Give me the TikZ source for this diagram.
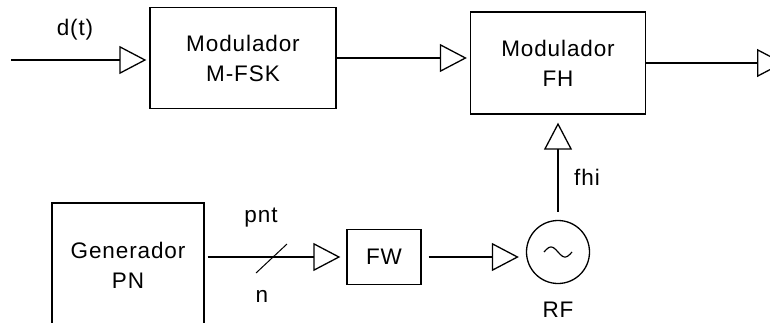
\documentclass[tikz,border=0pt]{standalone}
\usepackage{fontspec}
\setmainfont{Liberation Sans}[LetterSpace=4]
\usetikzlibrary{arrows.meta,calc}
\definecolor{ink}{HTML}{000000}
\newcommand{\blocktext}{\fontsize{22.5}{30}\selectfont}
\tikzset{
 every node/.append style={font=\blocktext,text=ink,align=center},
 block/.style={draw=ink,line width=1.3pt,inner sep=2pt},
 wire/.style={draw=ink,line width=1.3pt},
 signal/.style={wire,-{Triangle[open,length=27pt,width=28pt]},shorten >=3pt},
 tag/.style={inner sep=0pt,anchor=base},
 osc/.style={circle,draw=ink,line width=1.3pt,minimum size=63pt,inner sep=0pt},
}

\begin{document}
\begin{tikzpicture}[x=1pt,y=-1pt]
\useasboundingbox (0,0) rectangle (770,322);
\clip (0,0) rectangle (770,322);

\node[block,minimum width=186pt,minimum height=101pt] (fsk) at (243,58) {Modulador\\M-FSK};
\node[block,minimum width=175pt,minimum height=102pt] (fh) at (558,63) {Modulador\\FH};
\node[block,minimum width=152pt,minimum height=124pt] (gen) at (128,265) {Generador\\PN};
\node[block,minimum width=74pt,minimum height=55pt] (fw) at (384,257) {FW};
\node[osc] (rf) at (558,252) {};
\draw[wire,line width=1.2pt,shift={(rf.center)}] plot[domain=-14:14,smooth,samples=25] (\x,{-5*sin((\x+14)/28*360)});

\coordinate (in) at (11,60);
\coordinate (out) at (787,63);
\coordinate (bus) at (271,258);

\draw[signal] (in) -- (in -| fsk.west);
\draw[signal] (fsk.east) -- (fsk.east -| fh.west);
\draw[signal] (fh.east) -- (out);
\draw[signal,shorten <=3pt,shorten >=6pt] (fw.west -| gen.east) -- (fw.west);
\draw[signal,shorten <=7pt,shorten >=7pt] (fw.east) -- (fw.east -| rf.west);
\draw[signal,shorten <=8pt,shorten >=8pt] (rf.north) -- (fh.south);
\draw[wire,line width=1pt] ($(bus)+(-15,15)$) -- ($(bus)+(16,-14)$);

\node[tag] (dt) at (75,35) {d(t)};
\node[tag] (pnt) at (261,222) {pnt};
\node[tag] (n) at (262,302) {n};
\node[tag] (fhi) at (587,185) {fhi};
\node[tag] (rflbl) at (558,317) {RF};
\end{tikzpicture}
\end{document}
